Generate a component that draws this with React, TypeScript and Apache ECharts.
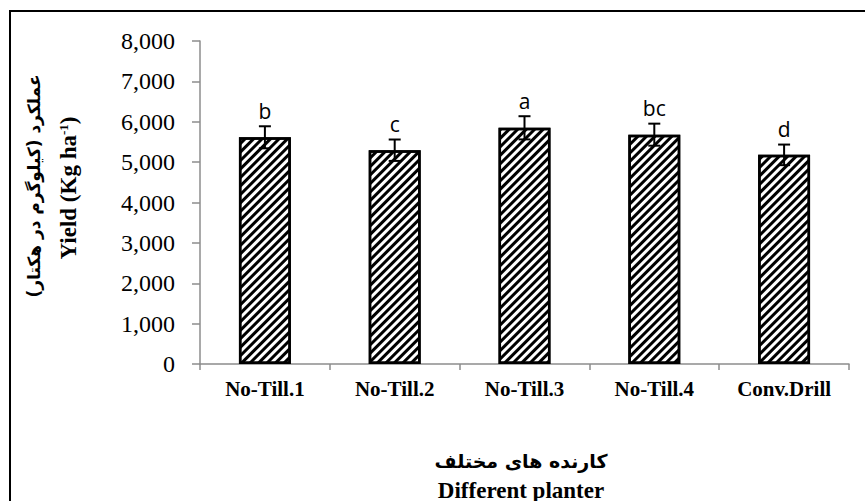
import React, { useEffect, useRef } from "react";
import * as echarts from "echarts";

const categories = ["No-Till.1", "No-Till.2", "No-Till.3", "No-Till.4", "Conv.Drill"];
const yields = [5615, 5295, 5850, 5680, 5180];
const errors = [273, 265, 287, 273, 255];
const letters = ["b", "c", "a", "bc", "d"];
const yTicks = [0, 8000, 1000];

const SERIF = "'Liberation Serif', 'Times New Roman', serif";

export default function App() {
  const ref = useRef<HTMLDivElement>(null);
  useEffect(() => {
    if (!ref.current) return;
    const chart = echarts.init(ref.current, null, { renderer: "svg" });
    const errData = categories.map((c, i) => [i, yields[i], errors[i], letters[i]]);
    chart.setOption({
      animation: false,
      backgroundColor: "#fff",
      textStyle: { fontFamily: SERIF },
      grid: { left: 200, right: 16, top: 41, bottom: 137, containLabel: false },
      xAxis: {
        type: "category",
        data: categories,
        axisLine: { lineStyle: { color: "#8c8c8c", width: 1.5 } },
        axisTick: { show: true, alignWithLabel: false, length: 6, lineStyle: { color: "#8c8c8c", width: 1.5 } },
        axisLabel: {
          color: "#000",
          fontFamily: SERIF,
          fontWeight: "bold",
          fontSize: 21,
          margin: 14,
        },
      },
      yAxis: {
        type: "value",
        min: yTicks[0],
        max: yTicks[1],
        interval: yTicks[2],
        axisLine: { show: true, lineStyle: { color: "#8c8c8c", width: 1.5 } },
        axisTick: { show: true, length: 8, lineStyle: { color: "#8c8c8c", width: 1.5 } },
        splitLine: { show: false },
        axisLabel: {
          color: "#000",
          fontFamily: SERIF,
          fontWeight: "normal",
          fontSize: 24,
          margin: 25,
          formatter: (v: number) => v.toLocaleString("en-US"),
        },
      },
      series: [
        {
          type: "bar",
          data: yields,
          barWidth: "40%",
          itemStyle: {
            color: "#fff",
            borderColor: "#000",
            borderWidth: 2.5,
            decal: {
              symbol: "rect",
              color: "#000",
              backgroundColor: "#fff",
              dashArrayX: [1, 0],
              dashArrayY: [2.5, 2.5],
              rotation: -Math.PI / 4,
            },
          },
        },
        {
          type: "custom",
          data: errData,
          z: 10,
          renderItem: (params: any, api: any) => {
            const x = api.value(0);
            const v = api.value(1);
            const e = api.value(2);
            const top = api.coord([x, v + e]);
            const bot = api.coord([x, v - e]);
            const half = 6;
            const style = { stroke: "#000", lineWidth: 2 };
            return {
              type: "group",
              children: [
                { type: "line", shape: { x1: top[0], y1: top[1], x2: bot[0], y2: bot[1] }, style },
                { type: "line", shape: { x1: top[0] - half, y1: top[1], x2: top[0] + half, y2: top[1] }, style },
                { type: "line", shape: { x1: bot[0] - half, y1: bot[1], x2: bot[0] + half, y2: bot[1] }, style },
                {
                  type: "text",
                  x: top[0],
                  y: top[1] - 5,
                  style: {
                    text: letters[params.dataIndex],
                    fill: "#000",
                    font: "21px 'Open Sans', sans-serif",
                    align: "center",
                    verticalAlign: "bottom",
                  },
                },
              ],
            };
          },
        },
      ],
      graphic: [
        {
          type: "rect",
          shape: { x: 10, y: 11, width: 870, height: 510 },
          style: { fill: "none", stroke: "#000", lineWidth: 2 },
          silent: true,
        },
        {
          type: "text",
          x: 34,
          y: 186,
          rotation: Math.PI / 2,
          style: {
            text: "عملکرد (کیلوگرم در هکتار)",
            font: "bold 17px 'DejaVu Sans'",
            fill: "#000",
            align: "center",
            verticalAlign: "middle",
          },
        },
        {
          type: "text",
          x: 68,
          y: 188,
          rotation: Math.PI / 2,
          style: {
            text: "{m|Yield (Kg ha}{s|-1}{m|)}",
            align: "center",
            verticalAlign: "middle",
            fill: "#000",
            rich: {
              m: { font: "bold 23px " + SERIF, fill: "#000" },
              s: { font: "bold 13px " + SERIF, fill: "#000", verticalAlign: "top", padding: [0, 0, 9, 0] },
            },
          },
        },
        {
          type: "text",
          x: 521,
          y: 461,
          style: {
            text: "کارنده های مختلف",
            font: "bold 19px 'DejaVu Sans'",
            fill: "#000",
            align: "center",
            verticalAlign: "middle",
          },
        },
        {
          type: "text",
          x: 521,
          y: 490,
          style: {
            text: "Different planter",
            font: "bold 23px " + SERIF,
            fill: "#000",
            align: "center",
            verticalAlign: "middle",
          },
        },
      ],
    });
    return () => chart.dispose();
  }, []);
  return (
    <div
      ref={ref}
      style={{ position: "fixed", left: 0, top: 0, width: 865, height: 501, background: "#fff" }}
    />
  );
}
